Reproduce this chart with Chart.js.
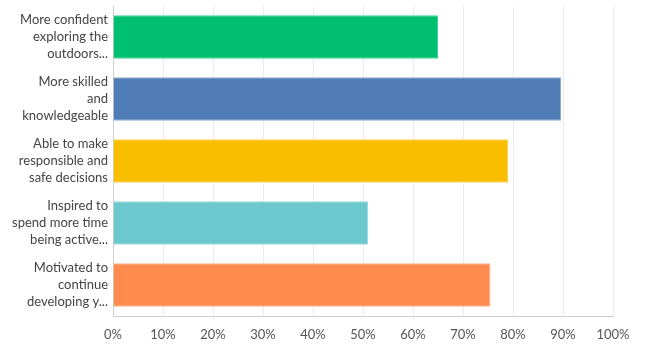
<!DOCTYPE html>
<html>
<head>
<meta charset="utf-8">
<script src="https://cdn.jsdelivr.net/npm/chart.js@4/dist/chart.umd.min.js"></script>
<style>
  html, body { margin: 0; padding: 0; background: #fff; }
  #wrap { width: 645px; height: 357px; position: relative; }
</style>
</head>
<body>
<div id="wrap"><canvas id="c" width="645" height="357"></canvas></div>
<script>
const categories = [
  ["More confident", "exploring the", "outdoors..."],
  ["More skilled", "and", "knowledgeable"],
  ["Able to make", "responsible and", "safe decisions"],
  ["Inspired to", "spend more time", "being active..."],
  ["Motivated to", "continue", "developing y..."]
];
const values = [65, 89.6, 79, 51, 75.5];
const barColors = ["#00BF6F", "#507CB6", "#F9BE00", "#6BC8CD", "#FF8B4F"];
const barBorders = ["#3fd597", "#8aa9d3", "#fbd35a", "#9bdade", "#ffb08a"];
const tickMax = 100;
const tickStep = 10;

new Chart(document.getElementById('c'), {
  type: 'bar',
  data: {
    labels: categories,
    datasets: [{
      data: values,
      backgroundColor: barColors,
      borderColor: barBorders,
      borderWidth: 1,
      categoryPercentage: 0.7,
      barPercentage: 1.0
    }]
  },
  options: {
    indexAxis: 'y',
    responsive: false,
    animation: false,
    devicePixelRatio: 1,
    layout: { padding: { top: 6, right: 32, left: 0, bottom: 0 } },
    plugins: { legend: { display: false }, tooltip: { enabled: false } },
    scales: {
      x: {
        min: 0, max: tickMax,
        ticks: {
          stepSize: tickStep,
          callback: v => v + '%',
          color: '#555',
          font: { family: 'Lato', size: 13 },
          padding: 11
        },
        grid: { color: '#ececec', lineWidth: 1, drawTicks: false },
        border: { color: '#cfcfcf', width: 1 },
        afterFit: s => { s.height = 41; s.paddingLeft = 0; s.paddingRight = 0; }
      },
      y: {
        ticks: {
          color: '#444',
          font: { family: 'Lato', size: 13, lineHeight: 1.3 },
          padding: 5,
          autoSkip: false
        },
        grid: { display: false, drawTicks: false },
        border: { color: '#cfcfcf', width: 1 },
        afterFit: s => { s.width = 113; s.paddingTop = 0; s.paddingBottom = 0; }
      }
    }
  }
});
</script>
</body>
</html>
